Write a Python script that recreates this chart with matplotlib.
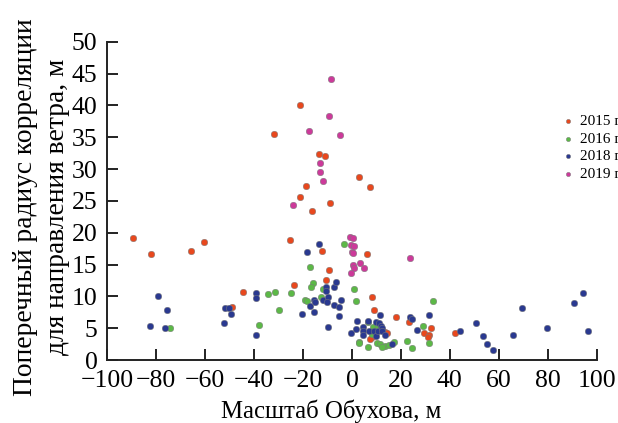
import matplotlib
matplotlib.use('Agg')
import matplotlib.pyplot as plt

# Obukhov length (m) and transverse correlation radius (m), by year
x_2015 = [-89.4, -82.0, -65.7, -60.6, -49.2, -44.5, -31.9, -25.5, -23.6, -21.3, -21.1, -18.8,
          -16.5, -13.3, -12.1, -11.2, -10.8, -9.5, -8.8, 2.9, 6.3, 7.2, 8.2, 8.9, 9.2, 8.1, 7.4,
          13.4, 14.2, 17.8, 23.2, 29.3, 31.5, 30.9, 32.2, 42.2]
y_2015 = [19.1, 16.6, 17.1, 18.6, 8.3, 10.7, 35.5, 18.8, 11.8, 25.6, 40.0, 27.3,
          23.4, 32.4, 17.2, 32.0, 12.6, 14.2, 24.7, 28.8, 16.6, 27.2, 9.9, 7.9, 4.2, 3.6, 3.3,
          4.4, 4.2, 6.8, 6.0, 4.3, 4.0, 3.6, 5.1, 4.3]

x_2016 = [-74.2, -37.8, -34.2, -31.6, -29.7, -25.0, -19.4, -18.4, -17.2, -16.1, -16.6, -11.9,
          -12.8, -3.3, 0.8, 1.5, 6.7, 8.6, 10.8, 8.3, 2.7, 2.7, 10.4, 11.3, 13.3, 12.4, 15.1,
          6.6, 17.2, 22.4, 24.4, 29.1, 31.5, 33.3]
y_2016 = [5.0, 5.5, 10.4, 10.7, 7.8, 10.6, 9.5, 9.3, 14.6, 12.1, 11.4, 11.2,
          9.9, 18.3, 11.2, 9.2, 5.9, 5.2, 5.0, 4.1, 2.9, 2.6, 2.7, 2.5, 2.2, 2.0, 2.3,
          2.1, 2.9, 3.0, 1.9, 5.3, 2.6, 9.3]

x_2018 = [-82.4, -79.4, -76.5, -75.4, -52.4, -51.7, -50.3, -49.5, -39.4, -39.4, -39.4, -20.5,
          -18.4, -17.3, -15.4, -15.3, -15.4, -13.3, -11.7, -10.6, -10.5, -9.8, -10.2, -9.9,
          -7.4, -6.4, -7.4, -5.3, -5.2, -4.5, -0.3, 1.5, 2.0, 4.5, 4.5, 4.5, 6.4, 7.0, 9.2,
          9.8, 10.0, 10.8, 11.1, 11.6, 11.9, 12.4, 12.4, 13.5, 16.3, 23.6, 24.6, 26.6, 31.6,
          44.2, 50.5, 53.6, 55.1, 57.6, 65.7, 69.6, 79.6, 90.6, 94.6, 96.6]
y_2018 = [5.3, 10.1, 5.0, 7.8, 5.8, 8.2, 8.2, 7.3, 10.6, 9.7, 3.9, 7.2,
          16.9, 8.5, 9.4, 9.1, 7.6, 18.2, 9.5, 11.4, 10.9, 9.9, 9.1, 5.2,
          11.4, 12.2, 8.6, 8.3, 6.9, 9.4, 4.3, 4.9, 6.1, 5.2, 4.6, 3.9, 6.2, 4.6, 4.6,
          6.0, 3.8, 4.5, 5.8, 7.1, 5.4, 5.0, 4.5, 3.9, 2.5, 6.8, 6.4, 4.7, 7.1,
          4.5, 5.8, 3.7, 2.5, 1.5, 4.0, 8.1, 5.1, 8.9, 10.6, 4.5]

x_2019 = [-24.0, -17.6, -12.9, -12.9, -12.0, -9.5, -8.6, -4.8, -0.8, 0.6, -0.4, 1.0,
          -0.1, 0.6, 3.2, 0.4, 1.0, 4.8, -0.2, 23.9]
y_2019 = [24.4, 36.0, 30.9, 29.5, 28.1, 38.3, 44.2, 35.3, 19.3, 19.1, 18.0, 17.9,
          16.9, 16.8, 15.2, 15.0, 14.4, 14.4, 13.6, 16.1]

series = [
    (x_2015, y_2015, '#e8481e', '2015 г'),
    (x_2016, y_2016, '#5cb847', '2016 г'),
    (x_2018, y_2018, '#2a3990', '2018 г'),
    (x_2019, y_2019, '#cc3a9a', '2019 г'),
]

plt.rcParams['font.family'] = ['Liberation Serif', 'DejaVu Serif']

fig = plt.figure(figsize=(6.18, 4.23), dpi=100)
ax = fig.add_axes([0.1736, 0.1489, 0.7919, 0.7523])

for xs, ys, col, lab in series:
    ax.scatter(xs, ys, s=22, c=col, edgecolors='#7a7a7a', linewidths=0.35, label=lab, zorder=3)

ax.set_xlim(-100, 100)
ax.set_ylim(0, 50)
ax.set_xticks(range(-100, 101, 20))
ax.set_yticks(range(0, 51, 5))

for side in ['top', 'right']:
    ax.spines[side].set_visible(False)
for side in ['left', 'bottom']:
    ax.spines[side].set_linewidth(1.4)
    ax.spines[side].set_color('#222222')
ax.tick_params(direction='in', length=8, width=1.4, color='#222222', labelsize=18.5, pad=7)

# axis titles placed on the figure so the two-line y title can sit close to the edge
fig.text(331 / 618, 1 - 418 / 423, 'Масштаб Обухова, м', ha='center', va='baseline', fontsize=17.8)
fig.text(41.5 / 618, 1 - 207 / 423, 'Поперечный радиус корреляции\nдля направления ветра, м',
         rotation=90, ha='center', va='center', multialignment='center', fontsize=19.8,
         linespacing=1.38)

ax.legend(loc='upper left', bbox_to_anchor=(561.7 / 618, 1 - 114 / 423), bbox_transform=fig.transFigure,
          frameon=False, fontsize=11, scatterpoints=1, markerscale=0.65, handlelength=0.8,
          handletextpad=0.4, borderpad=0, borderaxespad=0, labelspacing=0.27)

fig.savefig('out.png', dpi=100)
